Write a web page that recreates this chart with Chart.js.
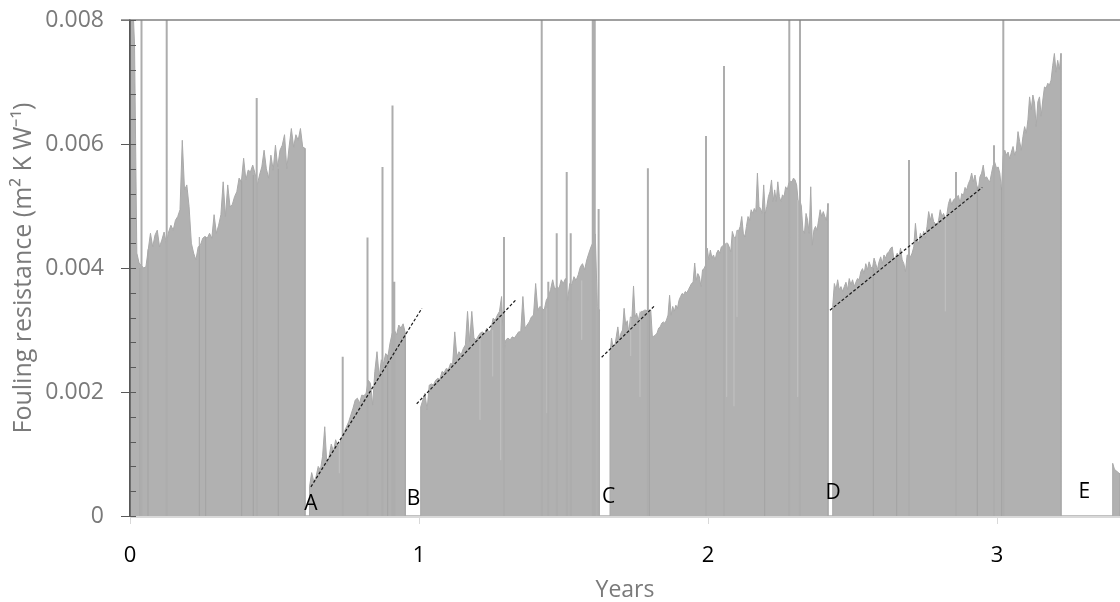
<!DOCTYPE html>
<html>
<head>
<meta charset="utf-8">
<script src="https://cdn.jsdelivr.net/npm/chart.js@4/dist/chart.umd.min.js"></script>
<style>
  html, body { margin: 0; padding: 0; background: #fff; }
  #wrap { width: 1120px; height: 602px; position: relative; }
</style>
</head>
<body>
<div id="wrap"><canvas id="chart"></canvas></div>
<script>
const segStart = [0, 0.6211, 1.0059, 1.6609, 2.4315, 3.4003]
const segEnd = [0.6055, 0.9526, 1.6246, 2.4152, 3.2215, 3.4256]

const run1 = [0.0095, 0.0085, 0.0076, 0.00424, 0.00408, 0.00404, 0.004, 0.00402, 0.00429, 0.00456,
  0.00434, 0.00453, 0.00461, 0.00434, 0.00445, 0.00458, 0.0044, 0.00458, 0.00469, 0.00461,
  0.00477, 0.00483, 0.00494, 0.00606, 0.00526, 0.00534, 0.00499, 0.0044, 0.00424, 0.00413,
  0.00434, 0.00437, 0.00448, 0.00451, 0.00448, 0.00456, 0.00448, 0.00486, 0.00456, 0.00469,
  0.00486, 0.00539, 0.00483, 0.00534, 0.00499, 0.00502, 0.00515, 0.00523, 0.00545, 0.00539,
  0.00577, 0.00542, 0.00558, 0.00555, 0.00566, 0.00553, 0.00534, 0.0055, 0.00563, 0.0059,
  0.0056, 0.00545, 0.00582, 0.00558, 0.00598, 0.00563, 0.0059, 0.00598, 0.00615, 0.0056,
  0.00595, 0.00625, 0.00595, 0.00615, 0.00606, 0.00625, 0.00595, 0.00593]

const run2 = [0.00047, 0.0007, 0.00055, 0.00063, 0.0008, 0.00074, 0.00096, 0.00144, 0.00082, 0.00096,
  0.00116, 0.00104, 0.00123, 0.00112, 0.00118, 0.00128, 0.00136, 0.00144, 0.00152, 0.00163,
  0.00174, 0.00187, 0.0019, 0.00182, 0.00195, 0.00194, 0.00198, 0.00219, 0.00214, 0.00179,
  0.00233, 0.00265, 0.00225, 0.00252, 0.00246, 0.00262, 0.00257, 0.00279, 0.00295, 0.003,
  0.00292, 0.00308, 0.00303, 0.0031, 0.00295]

const run3 = [0.00176, 0.00187, 0.00198, 0.00171, 0.00211, 0.00213, 0.00211, 0.00219, 0.00222, 0.0022,
  0.00233, 0.00231, 0.00238, 0.00236, 0.00246, 0.00245, 0.00297, 0.00257, 0.00265, 0.0026,
  0.0027, 0.00276, 0.0033, 0.00281, 0.0033, 0.00287, 0.00284, 0.0029, 0.00295, 0.00297,
  0.00292, 0.00303, 0.00297, 0.003, 0.00319, 0.00316, 0.00324, 0.0033, 0.00354, 0.00262,
  0.00284, 0.00287, 0.00284, 0.00289, 0.00287, 0.00292, 0.00297, 0.00297, 0.00354, 0.00303,
  0.00308, 0.00313, 0.00321, 0.00324, 0.00375, 0.00332, 0.00338, 0.00335, 0.00332, 0.00348,
  0.00354, 0.00365, 0.00381, 0.00365, 0.0037, 0.00367, 0.00381, 0.00375, 0.00383, 0.00348,
  0.00375, 0.00373, 0.00386, 0.0038, 0.00389, 0.00402, 0.00407, 0.00397, 0.00413, 0.00424,
  0.00434, 0.00442, 0.00455, 0.00338, 0.00332]

const run4 = [0.00262, 0.00287, 0.00271, 0.00273, 0.00289, 0.00305, 0.00284, 0.00295, 0.003, 0.00335,
  0.00308, 0.00315, 0.00295, 0.00321, 0.0032, 0.00371, 0.00321, 0.00327, 0.00315, 0.00327,
  0.0033, 0.0033, 0.00332, 0.00332, 0.0033, 0.00332, 0.00332, 0.00289, 0.0029, 0.00292,
  0.00295, 0.00303, 0.00305, 0.00311, 0.00313, 0.00311, 0.00316, 0.00324, 0.00356, 0.00324,
  0.00338, 0.0033, 0.0034, 0.00335, 0.00348, 0.00354, 0.00359, 0.00357, 0.00362, 0.0036,
  0.00365, 0.0037, 0.00375, 0.00377, 0.00408, 0.0038, 0.00391, 0.00386, 0.0037, 0.00397,
  0.00399, 0.00405, 0.00432, 0.00413, 0.00429, 0.00416, 0.00421, 0.00413, 0.00424, 0.00429,
  0.00424, 0.00434, 0.00436, 0.00437, 0.0044, 0.0044, 0.00434, 0.00426, 0.00459, 0.0045,
  0.00448, 0.00461, 0.0046, 0.00467, 0.00483, 0.00456, 0.0045, 0.00467, 0.00483, 0.00477,
  0.00494, 0.00488, 0.00496, 0.00491, 0.00553, 0.00499, 0.00496, 0.00488, 0.00534, 0.00488,
  0.00499, 0.00515, 0.00523, 0.00542, 0.00507, 0.00526, 0.00507, 0.00539, 0.00515, 0.00507,
  0.00518, 0.00515, 0.00531, 0.00526, 0.00537, 0.0054, 0.00539, 0.00545, 0.00542, 0.00534,
  0.00507, 0.0051, 0.005, 0.00461, 0.00456, 0.00488, 0.00477, 0.00456, 0.00531, 0.00437,
  0.00461, 0.00467, 0.00461, 0.00477, 0.00494, 0.00483, 0.00491, 0.00483, 0.00477, 0.00504]

const run5 = [0.00338, 0.00375, 0.00365, 0.00381, 0.00365, 0.0037, 0.00362, 0.0037, 0.00377, 0.00365,
  0.00383, 0.00373, 0.00381, 0.0037, 0.00377, 0.00383, 0.00381, 0.00394, 0.00399, 0.00391,
  0.00407, 0.00397, 0.0041, 0.00402, 0.00399, 0.00416, 0.00407, 0.00397, 0.0041, 0.00418,
  0.00407, 0.00421, 0.00416, 0.00424, 0.00426, 0.00432, 0.00434, 0.00413, 0.00418, 0.00424,
  0.00418, 0.00432, 0.00413, 0.00407, 0.00394, 0.00421, 0.0042, 0.00418, 0.00424, 0.00434,
  0.00472, 0.00445, 0.0044, 0.00456, 0.00448, 0.00459, 0.00448, 0.00467, 0.00491, 0.00477,
  0.00488, 0.00475, 0.00472, 0.00467, 0.00477, 0.00494, 0.00483, 0.00488, 0.0048, 0.00486,
  0.00504, 0.00512, 0.00502, 0.0051, 0.00512, 0.00515, 0.00517, 0.00504, 0.0052, 0.00517,
  0.0053, 0.00526, 0.00536, 0.00542, 0.00553, 0.00539, 0.0055, 0.00534, 0.00526, 0.00547,
  0.00553, 0.00566, 0.00545, 0.00547, 0.00542, 0.00539, 0.00553, 0.00566, 0.0057, 0.00561,
  0.00563, 0.00553, 0.00526, 0.0058, 0.0059, 0.00582, 0.00587, 0.00576, 0.00587, 0.00596,
  0.00582, 0.0059, 0.0062, 0.00604, 0.0059, 0.00612, 0.00628, 0.00617, 0.00639, 0.00676,
  0.00655, 0.00679, 0.00666, 0.00628, 0.00668, 0.00676, 0.00645, 0.00671, 0.00692, 0.0069,
  0.00698, 0.00695, 0.00703, 0.00727, 0.00746, 0.00716, 0.00735, 0.0072, 0.00746]

const run6 = [0.00085, 0.00075, 0.00073, 0.0007, 0.00068]

const runs = [run1, run2, run3, run4, run5, run6]

// single-reading spikes (values above 0.008 run off the top of the plot)
const spikeYears = [0.0398, 0.127, 0.4384, 0.736, 0.8218, 0.8737, 0.9083, 0.9145, 1.2941, 1.4246,
  1.4474, 1.4765, 1.5111, 1.5249, 1.6012, 1.6081, 1.6215, 1.792, 1.9931, 2.0554,
  2.2813, 2.3183, 2.6955, 2.8581, 2.9896, 3.0218]
const spikeValues = [0.0095, 0.0095, 0.00674, 0.00257, 0.00449, 0.00563, 0.00662, 0.00378, 0.0045, 0.0095,
  0.00378, 0.00456, 0.00555, 0.00456, 0.0095, 0.0095, 0.00495, 0.00561, 0.00613, 0.00726,
  0.0095, 0.0095, 0.00574, 0.00555, 0.00598, 0.0095]

// single readings that dropped to zero
const dropYears = [0.0346, 0.0623, 0.2398, 0.2619, 0.3865, 0.4266, 0.5131, 0.8917, 1.6014, 1.7969,
  2.1962, 2.5720, 2.6529, 2.9318, 3.0162]
const dropLevels = [0.004, 0.0043, 0.0045, 0.0045, 0.0054, 0.0055, 0.0056, 0.0026, 0.0044, 0.0033,
  0.0049, 0.004, 0.0042, 0.0053, 0.0053]

// single low readings inside a run: [year, low reading, surrounding level]
const dipYears = [0.7242, 1.2111, 1.255, 1.2827, 1.4429, 1.563, 1.7325, 1.7647, 2.0647, 2.09,
  2.1003, 2.3104, 2.8211]
const dipLows = [0.00069, 0.00155, 0.00225, 0.0009, 0.00166, 0.00284, 0.00258, 0.00192, 0.00192, 0.00177,
  0.00321, 0.00192, 0.0033]
const dipLevels = [0.00118, 0.0029, 0.003, 0.0033, 0.00335, 0.0038, 0.0032, 0.0033, 0.0044, 0.0045,
  0.0046, 0.0051, 0.0048]

// fitted fouling-rate lines
const trendYears = [[0.626, 1.010], [0.992, 1.338], [1.632, 1.813], [2.422, 2.949]]
const trendValues = [[0.00047, 0.00335], [0.00181, 0.0035], [0.00256, 0.00338], [0.00332, 0.0053]]

// cleaning events
const eventLabels = ['A', 'B', 'C', 'D', 'E']
const eventYears = [0.626, 0.981, 1.656, 2.4325, 3.302]
const eventLevels = [0.0001, 0.00018, 0.00021, 0.00027, 0.00029]

const yTicks = [0, 0.002, 0.004, 0.006, 0.008]
const xTicks = [0, 1, 2, 3]

const baseData = []
runs.forEach((vals, k) => {
  const s = segStart[k], e = segEnd[k]
  const dx = (e - s) / (vals.length - 1)
  baseData.push({ x: s, y: 0 })
  vals.forEach((v, i) => baseData.push({ x: s + i * dx, y: v }))
  baseData.push({ x: e, y: 0 })
})

const spikeData = []
spikeYears.forEach((t, i) => {
  spikeData.push({ x: t, y: 0 }, { x: t, y: spikeValues[i] }, { x: t, y: null })
})

const dropData = []
dropYears.forEach((t, i) => {
  dropData.push({ x: t, y: 0 }, { x: t, y: dropLevels[i] }, { x: t, y: null })
})

const dipData = []
dipYears.forEach((t, i) => {
  dipData.push({ x: t, y: dipLows[i] }, { x: t, y: dipLevels[i] }, { x: t, y: null })
})

const trendSets = trendYears.map((ts, i) => ({
  data: ts.map((t, j) => ({ x: t, y: trendValues[i][j] })),
  borderColor: '#1a1a1a',
  borderWidth: 1.2,
  borderDash: [3, 2],
  pointRadius: 0,
  fill: false,
  order: 0
}))

const GRAY = '#7a7a7a'
Chart.defaults.font.family = "'Open Sans', sans-serif"

const axisDecor = {
  id: 'axisDecor',
  afterDatasetsDraw(chart) {
    const { ctx, chartArea: a, scales } = chart
    const y = scales.y
    ctx.save()
    // x axis line over the fill
    ctx.strokeStyle = '#d9d9d9'
    ctx.lineWidth = 2
    ctx.beginPath()
    ctx.moveTo(a.left, a.bottom + 1)
    ctx.lineTo(a.right, a.bottom + 1)
    ctx.stroke()
    // top frame line
    ctx.strokeStyle = '#808080'
    ctx.lineWidth = 1.5
    ctx.beginPath()
    ctx.moveTo(a.left - 9, a.top)
    ctx.lineTo(a.right, a.top)
    ctx.stroke()
    // y axis line and inner ticks
    ctx.strokeStyle = '#595959'
    ctx.lineWidth = 1.5
    ctx.beginPath()
    ctx.moveTo(a.left, a.top)
    ctx.lineTo(a.left, a.bottom)
    ctx.stroke()
    ctx.lineWidth = 1
    for (let v = 0; v <= y.max + 1e-9; v += 0.0004) {
      const py = Math.round(y.getPixelForValue(v)) + 0.5
      ctx.beginPath()
      ctx.moveTo(a.left, py)
      ctx.lineTo(a.left + 6, py)
      ctx.stroke()
    }
    // event letters
    ctx.fillStyle = '#000'
    ctx.font = "21px 'Open Sans', sans-serif"
    ctx.textAlign = 'center'
    ctx.textBaseline = 'alphabetic'
    eventLabels.forEach((lab, i) => {
      ctx.fillText(lab, scales.x.getPixelForValue(eventYears[i]), y.getPixelForValue(eventLevels[i]))
    })
    ctx.restore()
  }
}

new Chart(document.getElementById('chart'), {
  type: 'line',
  data: {
    datasets: [
      ...trendSets,
      {
        data: spikeData,
        borderColor: '#adadad',
        borderWidth: 2,
        pointRadius: 0,
        spanGaps: false,
        fill: false,
        order: 1
      },
      {
        data: dropData,
        borderColor: '#a3a3a3',
        borderWidth: 1,
        pointRadius: 0,
        spanGaps: false,
        fill: false,
        order: 1
      },
      {
        data: dipData,
        borderColor: '#c2c2c2',
        borderWidth: 1,
        pointRadius: 0,
        spanGaps: false,
        fill: false,
        order: 1
      },
      {
        data: baseData,
        borderColor: '#a9a9a9',
        backgroundColor: '#b1b1b1',
        borderWidth: 1,
        pointRadius: 0,
        tension: 0,
        fill: 'origin',
        order: 2
      }
    ]
  },
  options: {
    responsive: true,
    maintainAspectRatio: false,
    animation: false,
    events: [],
    layout: { padding: { top: 20, right: 0, bottom: 0, left: 0 } },
    plugins: { legend: { display: false }, tooltip: { enabled: false } },
    scales: {
      x: {
        type: 'linear',
        min: 0,
        max: 3.4256,
        afterFit: s => { s.height = 86; s.paddingLeft = 0; s.paddingRight = 0 },
        afterBuildTicks: s => { s.ticks = xTicks.map(v => ({ value: v })) },
        ticks: {
          color: '#000',
          font: { size: 22 },
          padding: 19,
          maxRotation: 0,
          autoSkip: false,
          callback: v => String(v)
        },
        grid: { drawOnChartArea: false, drawTicks: true, tickLength: 8, color: '#d9d9d9' },
        border: { display: true, color: '#d9d9d9', width: 2 },
        title: {
          display: true,
          text: 'Years',
          color: GRAY,
          font: { size: 23 },
          padding: { top: 0, bottom: -2 }
        }
      },
      y: {
        min: 0,
        max: 0.008,
        afterFit: s => { s.width = 130; s.paddingTop = 0; s.paddingBottom = 0 },
        afterBuildTicks: s => { s.ticks = yTicks.map(v => ({ value: v })) },
        ticks: {
          color: GRAY,
          font: { size: 23 },
          padding: 17,
          callback: v => (v === 0 ? '0' : v.toFixed(3))
        },
        grid: { drawOnChartArea: false, drawTicks: true, tickLength: 9, color: '#595959' },
        border: { display: true, color: '#595959', width: 1.5 },
        title: {
          display: true,
          text: 'Fouling resistance (m² K W⁻¹)',
          color: GRAY,
          font: { size: 25 },
          padding: { top: 9, bottom: 0 }
        }
      }
    }
  },
  plugins: [axisDecor]
})
</script>
</body>
</html>
